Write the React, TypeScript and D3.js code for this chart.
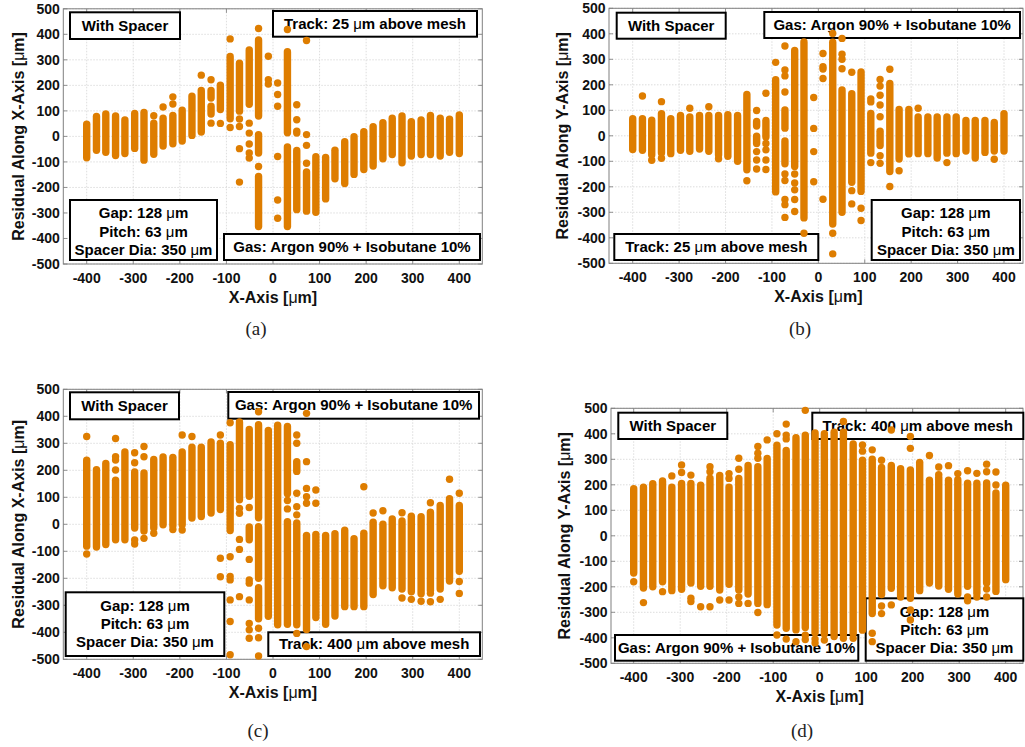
import React from 'react';
import * as d3 from 'd3';

// column positions along the x-axis (µm), same for every panel
const xPositions = [
  -400, -379, -359, -338, -318, -297, -277, -256, -236, -215, -195, -174, -154, -133, -113, -92, -72, -51, -31, -10,
  10, 31, 51, 72, 92, 113, 133, 154, 174, 195, 215, 236, 256, 277, 297, 318, 338, 359, 379, 400,
];
const xTickValues = [-400, -300, -200, -100, 0, 100, 200, 300, 400];
const yTickValues = [-500, -400, -300, -200, -100, 0, 100, 200, 300, 400, 500];

// each column: list of runs, [v] = single hit, [lo, hi] = continuous band of hits
const residualXTrack25 = [
  [[-84, 48]], [[-54, 78]], [[-62, 88]], [[-75, 80]], [[-67, 64]], [[-47, 90]], [[-93, 94]],
  [[-70, 52], [81]], [[-38, 71], [115]], [[-29, 82], [127], [155]], [[-18, 103]], [[4, 158]],
  [[17, 180], [240]], [[52], [88, 118], [150, 180], [222]], [[51], [105, 201]], [[35], [69, 313], [382]],
  [[-179], [-48], [39], [68], [99, 287]], [[-85], [-65], [-30], [13], [52], [126, 339]],
  [[-353, -157], [-118], [-65, 7], [80, 378], [423]], [[205], [222], [314]],
  [[-321], [-249], [-79], [118], [164], [209]], [[-353, -41], [14, 332], [419]],
  [[-287, -55], [13, 20], [65], [124]], [[-293, -139], [-105], [-35], [7], [376]],
  [[-297, -80]], [[-245, -82]], [[-166, -54]], [[-185, -21]], [[-149, -1]], [[-130, 18]], [[-116, 38]],
  [[-88, 54]], [[-71, 71]], [[-103, 80]], [[-77, 58]], [[-71, 64]], [[-71, 82]], [[-77, 71]], [[-62, 67]], [[-67, 84]],
];

const residualYTrack25 = [
  [[-54, 67]], [[-57, 67], [156]], [[-96], [-75, 61]], [[-88], [-67, 87], [134]], [[-70, 67]], [[-57, 80]],
  [[-61, 74], [108]], [[-52, 80]], [[-61, 80], [114]], [[-90], [-75, 80]], [[-80, 83]], [[-100, 80]],
  [[-176], [-133, 162]], [[-130], [-95], [-62], [-30, -2], [38, 56], [99]],
  [[-132], [-95], [-55], [-30], [-5, 60], [167]], [[-220, 220], [288]],
  [[-320], [-270], [-250], [-175], [-150], [-110, -20], [30, 101], [172], [235], [258], [352]],
  [[-297], [-250], [-212], [-185], [-150], [-120, 335]], [[-382], [-322, 368]],
  [[-180], [-62], [29], [150]], [[-249], [225], [262], [271], [323]],
  [[-463], [-382], [-346, 367], [401]], [[-300, 180], [263], [300], [320], [382]],
  [[-267], [-215], [-182, 165], [249]], [[-332], [-284], [-218, 250]], [[-105], [-68, 88], [133], [145]],
  [[-108], [-78], [-38, 18], [75], [121], [159], [195], [221]], [[-199], [-140, 205], [261]],
  [[-137], [-91, 103]], [[-71, 103]], [[-70, 74], [108]], [[-70, 74]], [[-87, 74]], [[-105], [-68, 74]],
  [[-70, 74]], [[-60, 60]], [[-87, 60]], [[-65, 60]], [[-92], [-60, 52]], [[-60, 87]],
];

const residualXTrack400 = [
  [[-110], [-81, 237], [325]], [[-84, 202]], [[-75, 225]], [[-57, 163], [201], [238], [250], [318]],
  [[-57, 268]], [[-73], [-58], [-14, 194], [228], [265]], [[-52], [-25, 190], [250], [288]],
  [[-33], [-14, 240]], [[-2, 249]], [[-19], [-5, 248]], [[-21], [-2, 268], [331]], [[23, 286], [325]],
  [[29, 286]], [[42, 305]], [[-194], [-126], [55, 300], [331]],
  [[-483], [-360], [-280], [-206], [-193], [-120], [-23, 295], [376]],
  [[-268], [-93], [-56], [41], [59], [91, 379]],
  [[-422], [-391], [-367], [-280], [-218], [-206], [-130], [-57, -10], [62], [104, 351]],
  [[-488], [-420], [-385], [-350, -235], [-200, -9], [24, 369], [417]], [[-341, 348]], [[-372, 367]],
  [[-370, 10], [57], [88], [113, 362]], [[-404], [-372, 5], [35], [65], [115], [196, 232], [300], [331]],
  [[-453], [-390, -41], [78], [102], [133], [232], [411]], [[-345, -38], [78], [127]],
  [[-370, -41]], [[-340, -35]], [[-305, -22]], [[-305, -53]], [[-305, -33], [139]], [[-260, 8], [42]],
  [[-228, 0], [50]], [[-235, 20]], [[-273], [-240, 12], [43]], [[-278], [-250, 30]], [[-285], [-257, 28]],
  [[-287], [-255], [-245, 45], [80]], [[-278], [-240, 70]], [[-210, 95], [167]], [[-256], [-212], [-174, 70], [115]],
];

const residualYTrack400 = [
  [[-180], [-146, 185]], [[-262], [-205, 191]], [[-200, 204]], [[-219], [-180, 215]], [[-215, 191], [235]],
  [[-210, 205], [248], [278]], [[-258], [-245], [-185, 205], [238]], [[-278], [-198, 198]],
  [[-278], [-198, 226], [251], [271]], [[-252], [-213, 237]], [[-252], [-190, 191], [225], [244]],
  [[-265], [-240], [-213, 225], [261], [304]], [[-265], [-228, 276]], [[-301], [-265, 271], [304], [324], [350]],
  [[-270, 303], [376]], [[-389], [-350, 355], [400]], [[-405], [-363, 335], [380], [395], [438]],
  [[-415], [-369, 385]], [[-407], [-390], [-360, 395], [492]], [[-420], [-405], [-380, 403]],
  [[-409], [-385, 400]], [[-395, 406]], [[-402], [-385, 406], [448]], [[-402], [-382, 360]],
  [[-370, 296], [332], [356]], [[-415], [-382], [-305, 300], [337]], [[-305], [-275], [-230, 268], [296]],
  [[-271], [-206, 276], [415]], [[-240, 263]], [[-330], [-291], [-245, 258], [343], [390]], [[-215, 288]],
  [[-185, 218], [315]], [[-197, 230], [240], [270]], [[-210, 218], [275]], [[-228, 220], [244]],
  [[-255], [-240], [-198, 206], [255]], [[-240], [-225, 206], [245]], [[-240], [-209], [-185, 207], [251], [281]],
  [[-218, 168], [199], [250]], [[-172, 198]],
];

const gapLines = ['Gap: 128 μm', 'Pitch: 63 μm', 'Spacer Dia: 350 μm'];
const gasLabel = 'Gas: Argon 90% + Isobutane 10%';

const DOT = 'rgb(222,125,0)';
const R = 3.7;
const FONT = '"Liberation Sans", Arial, sans-serif';

const panels = [
  {
    id: 'a', data: residualXTrack25, yTitle: 'Residual Along X-Axis [μm]',
    left: 63.3, right: 482.3, top: 8.8, bottom: 264, x0: 86.7, x1: 459.3, yTitleX: 24, caption: '(a)', capX: 256, capY: 335,
    boxes: [
      { x: 70, y: 12.3, w: 110, h: 26.7, lines: ['With Spacer'] },
      { x: 273, y: 11, w: 204, h: 25.7, lines: ['Track: 25 μm above mesh'] },
      { x: 70, y: 200, w: 147, h: 60, lines: gapLines },
      { x: 224, y: 234, w: 256, h: 26, lines: [gasLabel] },
    ],
  },
  {
    id: 'b', data: residualYTrack25, yTitle: 'Residual Along Y-Axis [μm]',
    left: 609, right: 1023, top: 8.3, bottom: 263.3, x0: 632.7, x1: 1004, yTitleX: 568, caption: '(b)', capX: 800, capY: 335,
    boxes: [
      { x: 616.7, y: 12.7, w: 109, h: 26, lines: ['With Spacer'] },
      { x: 764.3, y: 12, w: 255.7, h: 26, lines: [gasLabel] },
      { x: 614.3, y: 234, w: 204, h: 26, lines: ['Track: 25 μm above mesh'] },
      { x: 871.7, y: 200, w: 148.3, h: 60, lines: gapLines },
    ],
  },
  {
    id: 'c', data: residualXTrack400, yTitle: 'Residual Along X-Axis [μm]',
    left: 63.3, right: 482.3, top: 389.3, bottom: 659.3, x0: 86.7, x1: 459.3, yTitleX: 24, caption: '(c)', capX: 258, capY: 737,
    boxes: [
      { x: 70, y: 392.3, w: 109, h: 27, lines: ['With Spacer'] },
      { x: 228.3, y: 392, w: 250.7, h: 26.7, lines: [gasLabel] },
      { x: 65.7, y: 592.3, w: 158.6, h: 63.7, lines: gapLines },
      { x: 268.3, y: 632.3, w: 211.7, h: 23.7, lines: ['Track: 400 μm above mesh'] },
    ],
  },
  {
    id: 'd', data: residualYTrack400, yTitle: 'Residual Along Y-Axis [μm]',
    left: 611, right: 1023, top: 408.3, bottom: 663.3, x0: 633.7, x1: 1005.7, yTitleX: 570, caption: '(d)', capX: 802, capY: 737,
    boxes: [
      { x: 618.3, y: 412.7, w: 109, h: 26.3, lines: ['With Spacer'] },
      { x: 812.3, y: 412.7, w: 211, h: 26.3, lines: ['Track: 400 μm above mesh'] },
      { x: 615, y: 635, w: 243.3, h: 25.7, lines: [gasLabel] },
      { x: 865.7, y: 598.3, w: 157.6, h: 62.4, lines: gapLines },
    ],
  },
];

// µ is set in a lighter (symbol) face in the original
const withMu = (s: string) =>
  s.split('μ').map((part, i) => (
    <React.Fragment key={i}>
      {i > 0 && <tspan fontWeight="normal">μ</tspan>}
      {part}
    </React.Fragment>
  ));

const Panel = ({ p }: { p: (typeof panels)[number] }) => {
  const x = d3.scaleLinear().domain([-400, 400]).range([p.x0, p.x1]);
  const y = d3.scaleLinear().domain([-500, 500]).range([p.bottom, p.top]);
  const midY = (p.top + p.bottom) / 2;

  return (
    <g>
      {/* grid */}
      {xTickValues.map((t) => (
        <line key={'gx' + t} x1={x(t)} x2={x(t)} y1={p.top} y2={p.bottom} stroke="#d4d4d4" strokeWidth={0.8} strokeDasharray="1.5,1.5" />
      ))}
      {yTickValues.map((t) => (
        <line key={'gy' + t} x1={p.left} x2={p.right} y1={y(t)} y2={y(t)} stroke="#d4d4d4" strokeWidth={0.8} strokeDasharray="1.5,1.5" />
      ))}
      {/* ticks on all sides */}
      {xTickValues.map((t) => (
        <g key={'tx' + t} stroke="#777" strokeWidth={0.8}>
          <line x1={x(t)} x2={x(t)} y1={p.bottom} y2={p.bottom - 4} />
          <line x1={x(t)} x2={x(t)} y1={p.top} y2={p.top + 4} />
        </g>
      ))}
      {yTickValues.map((t) => (
        <g key={'ty' + t} stroke="#777" strokeWidth={0.8}>
          <line x1={p.left} x2={p.left + 4} y1={y(t)} y2={y(t)} />
          <line x1={p.right} x2={p.right - 4} y1={y(t)} y2={y(t)} />
        </g>
      ))}
      <rect x={p.left} y={p.top} width={p.right - p.left} height={p.bottom - p.top} fill="none" stroke="#808080" strokeWidth={1} />

      {/* text boxes */}
      {p.boxes.map((b, i) => (
        <g key={'b' + i}>
          <rect x={b.x} y={b.y} width={b.w} height={b.h} fill="#fff" stroke="#000" strokeWidth={2} />
          {b.lines.map((ln, k) => (
            <text
              key={k}
              x={b.x + b.w / 2}
              y={b.lines.length === 1 ? b.y + b.h / 2 + 5 : b.y + 18.2 + k * 18.3}
              textAnchor="middle"
              fontFamily={FONT}
              fontWeight="bold"
              fontSize={15}
              fill="#000"
            >
              {withMu(ln)}
            </text>
          ))}
        </g>
      ))}

      {/* hits */}
      {p.data.map((col, i) =>
        col.map((run, j) => {
          const cx = x(xPositions[i]);
          if (run.length === 1) return <circle key={`${i}-${j}`} cx={cx} cy={y(run[0])} r={R} fill={DOT} />;
          return (
            <line
              key={`${i}-${j}`}
              x1={cx}
              x2={cx}
              y1={y(run[0])}
              y2={y(run[1])}
              stroke={DOT}
              strokeWidth={2 * R}
              strokeLinecap="round"
            />
          );
        })
      )}

      {/* tick labels */}
      {xTickValues.map((t) => (
        <text key={'lx' + t} x={x(t)} y={p.bottom + 18.6} textAnchor="middle" fontFamily={FONT} fontWeight="bold" fontSize={14} fill="#111">
          {t}
        </text>
      ))}
      {yTickValues.map((t) => (
        <text key={'ly' + t} x={p.left - 3.5} y={y(t) + 5} textAnchor="end" fontFamily={FONT} fontWeight="bold" fontSize={14} fill="#111">
          {t}
        </text>
      ))}

      {/* axis titles */}
      <text x={x(0)} y={p.bottom + 38.5} textAnchor="middle" fontFamily={FONT} fontWeight="bold" fontSize={16} fill="#111">
        {withMu('X-Axis [μm]')}
      </text>
      <text
        transform={`translate(${p.yTitleX},${midY}) rotate(-90)`}
        textAnchor="middle"
        fontFamily={FONT}
        fontWeight="bold"
        fontSize={16}
        fill="#111"
      >
        {withMu(p.yTitle)}
      </text>

      <text x={p.capX} y={p.capY} textAnchor="middle" fontFamily='"Liberation Serif", "DejaVu Serif", serif' fontSize={19} fill="#222">
        {p.caption}
      </text>
    </g>
  );
};

export default function App() {
  return (
    <svg width={1025} height={747} style={{ position: 'absolute', left: 0, top: 0, background: '#fff' }}>
      {panels.map((p) => (
        <Panel key={p.id} p={p} />
      ))}
    </svg>
  );
}
